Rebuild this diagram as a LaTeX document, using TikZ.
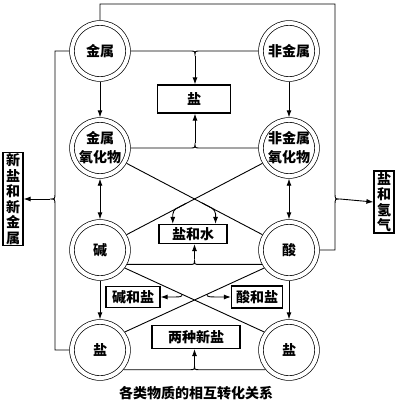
\documentclass[tikz,border=0pt]{standalone}
\usepackage{fontspec}
\setmainfont{Noto Sans CJK SC}
\usetikzlibrary{arrows,arrows.meta,calc}

\tikzset{
    ring/.style={circle, draw, double, double distance=4pt, line width=0.7pt,
        minimum size=56pt, inner sep=0pt, outer sep=2.7pt, align=center,
        font=\bfseries\fontsize{14}{19}\selectfont},
    box/.style={draw, line width=1.2pt, inner sep=0pt,
        font=\bfseries\fontsize{14}{15.5}\selectfont},
    vbox/.style={box, align=center, minimum width=20pt}
}

\begin{document}
\begin{tikzpicture}[x=1pt, y=-1pt, line width=0.9pt, >={Latex[length=7pt,width=5pt]}]
    \useasboundingbox (0,0) rectangle (403,407);

    % substances
    \node[ring] (jinshu)    at (100,51)  {金属};
    \node[ring] (feijinshu) at (289,51)  {非金属};
    \node[ring] (jyhw)      at (100,148) {金属\\氧化物};
    \node[ring] (fjyhw)     at (289,148) {非金属\\氧化物};
    \node[ring] (jian)      at (100,250) {碱};
    \node[ring] (suan)      at (289,250) {酸};
    \node[ring] (yanL)      at (100,350) {盐};
    \node[ring] (yanR)      at (289,350) {盐};

    % products
    \node[box, minimum width=73pt, minimum height=28pt] (yan)  at (194,99)  {盐};
    \node[box, minimum width=68pt, minimum height=19pt] (yhs)  at (193,234) {盐和水};
    \node[box, minimum width=54pt, minimum height=21pt] (jhy)  at (133,297) {碱和盐};
    \node[box, minimum width=51pt, minimum height=22pt] (shy)  at (257,297) {酸和盐};
    \node[box, minimum width=88pt, minimum height=23pt] (lzxy) at (196,337) {两种新盐};
    \node[vbox, minimum height=93pt] (xyxjs) at (13,199)  {新\\盐\\和\\新\\金\\属};
    \node[vbox, minimum height=62pt] (yqq)   at (384,202) {盐\\和\\氢\\气};

    \node[font=\bfseries\fontsize{14}{14}\selectfont] (title) at (196,393) {各类物质的相互转化关系};

    % forks
    \coordinate (rfork) at (335,199);
    \coordinate (lfork) at (55,199);
    \coordinate (tfork) at (195,51);
    \coordinate (bfork) at (195,148);

    % metal + acid, metal + salt
    \draw (jinshu.north) |- (335,4) -- ([yshift=6pt]rfork) .. controls (rfork) .. ([xshift=5pt]rfork)
        .. controls (rfork) .. ([yshift=-6pt]rfork) |- (suan.east);
    \draw[->] ([xshift=5pt]rfork) -- (yqq.west);
    \draw (jinshu.west) -| ([yshift=6pt]lfork) .. controls (lfork) .. ([xshift=-5pt]lfork)
        .. controls (lfork) .. ([yshift=-6pt]lfork) |- (yanL.west);
    \draw[->] ([xshift=-5pt]lfork) -- (xyxjs.east);

    % salt from elements and from oxides
    \draw (jinshu.east) -- ([xshift=-5pt]tfork) .. controls (tfork) .. ([yshift=-5pt]tfork)
        .. controls (tfork) .. ([xshift=5pt]tfork) -- (feijinshu.west);
    \draw[->] ([yshift=-5pt]tfork) -- (yan.north -| tfork);
    \draw (jyhw.east) -- ([xshift=-5pt]bfork) .. controls (bfork) .. ([yshift=5pt]bfork)
        .. controls (bfork) .. ([xshift=5pt]bfork) -- (fjyhw.west);
    \draw[->] ([yshift=5pt]bfork) -- (yan.south -| bfork);

    % columns
    \draw[->] (jinshu.south) -- (jyhw.north);
    \draw[->] (feijinshu.south) -- (fjyhw.north);
    \draw[<->] (jyhw.south) -- (jian.north);
    \draw[<->] (fjyhw.south) -- (suan.north);
    \draw[->] (jian.south) -- (yanL.north);
    \draw[->] (suan.south) -- (yanR.north);

    % oxide + base / acid
    \draw (jyhw.-30) -- (suan.150);
    \draw (fjyhw.-150) -- (jian.30);
    \coordinate (tapA) at ($(fjyhw.-150)!0.66!(jian.30)$);
    \coordinate (tapB) at ($(jyhw.-30)!0.655!(suan.150)$);
    \draw[->, rounded corners=4pt] ($(fjyhw.-150)!0.56!(jian.30)$) -- (tapA) -- (tapA |- yhs.north);
    \draw[->, rounded corners=4pt] ($(jyhw.-30)!0.555!(suan.150)$) -- (tapB) -- (tapB |- yhs.north);

    % base + acid
    \coordinate (mfork) at ($(jian.-28)!0.5!(suan.-152)$);
    \draw (jian.-28) -- ([xshift=-5pt]mfork) .. controls (mfork) .. ([yshift=5pt]mfork)
        .. controls (mfork) .. ([xshift=5pt]mfork) -- (suan.-152);
    \draw[->] ([yshift=5pt]mfork) -- (mfork |- yhs.south);

    % base / acid + salt
    \draw (jian.-36) -- (yanR.144);
    \draw (suan.-144) -- (yanL.36);
    \coordinate (tapC) at ($(jian.-36)!0.41!(yanR.144)$);
    \coordinate (tapD) at ($(suan.-144)!0.41!(yanL.36)$);
    \draw[->] (tapC) .. controls (tapC |- jhy.east) .. (jhy.east);
    \draw[->] (tapD) .. controls (tapD |- shy.west) .. (shy.west);

    % salt + salt
    \coordinate (sfork) at ($(yanL.-40)!0.5!(yanR.-140)$);
    \draw (yanL.-40) -- ([xshift=-5pt]sfork) .. controls (sfork) .. ([yshift=5pt]sfork)
        .. controls (sfork) .. ([xshift=5pt]sfork) -- (yanR.-140);
    \draw[->] ([yshift=5pt]sfork) -- (sfork |- lzxy.south);
\end{tikzpicture}
\end{document}
